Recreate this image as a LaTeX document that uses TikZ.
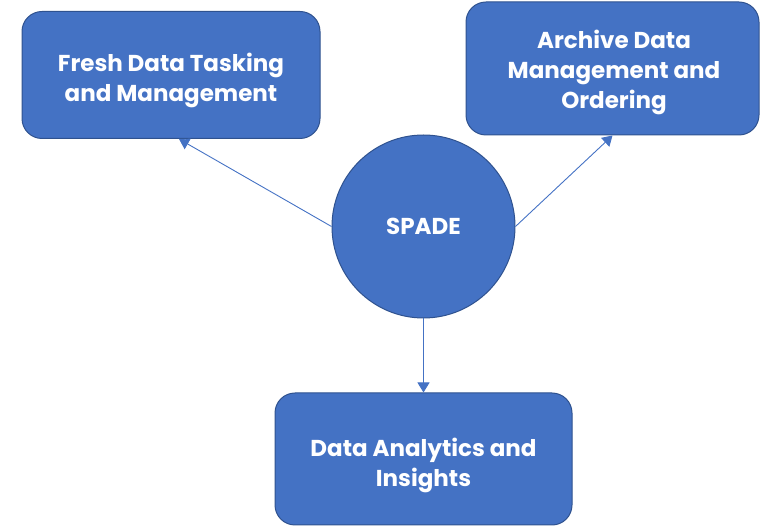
\documentclass[tikz,border=0pt]{standalone}
\usepackage{fontspec}
\setmainfont{Poppins}
\usetikzlibrary{arrows.meta,calc}
\definecolor{boxblue}{HTML}{4472C4}
\definecolor{edgeblue}{HTML}{2F528F}
\tikzset{
  labeltext/.style={text=white, font=\fontsize{23}{30}\selectfont\bfseries, align=center, inner sep=0pt},
  box/.style={draw=edgeblue, line width=1pt, fill=boxblue, rounded corners=20pt, inner sep=0pt},
  hub/.style={draw=edgeblue, line width=1pt, fill=boxblue, circle, labeltext, inner sep=0pt, minimum size=183pt},
  link/.style={draw=boxblue, line width=0.9pt, -{Triangle[width=12pt,length=10pt]}}
}
\begin{document}
\begin{tikzpicture}[x=1pt,y=-1pt]
\useasboundingbox (0,0) rectangle (761,526);
\node[box, minimum width=298pt, minimum height=127pt] (fresh) at (171,75) {};
\node[labeltext] (freshtext) at (171,80) {Fresh Data Tasking\\and Management};
\node[box, minimum width=293pt, minimum height=133pt] (archive) at (612.5,68.5) {};
\node[labeltext] (archivetext) at (614,72) {Archive Data\\Management and\\Ordering};
\node[hub] (spade) at (423.5,226.5) {SPADE};
\node[box, minimum width=297pt, minimum height=132pt] (insights) at (423.5,459) {};
\node[labeltext] (insightstext) at (423.5,465) {Data Analytics and\\Insights};
\draw[link] (spade.west) -- ([xshift=8pt]fresh.south);
\draw[link] (spade.east) -- (archive.south);
\draw[link] (spade.south) -- (insights.north);
\end{tikzpicture}
\end{document}
